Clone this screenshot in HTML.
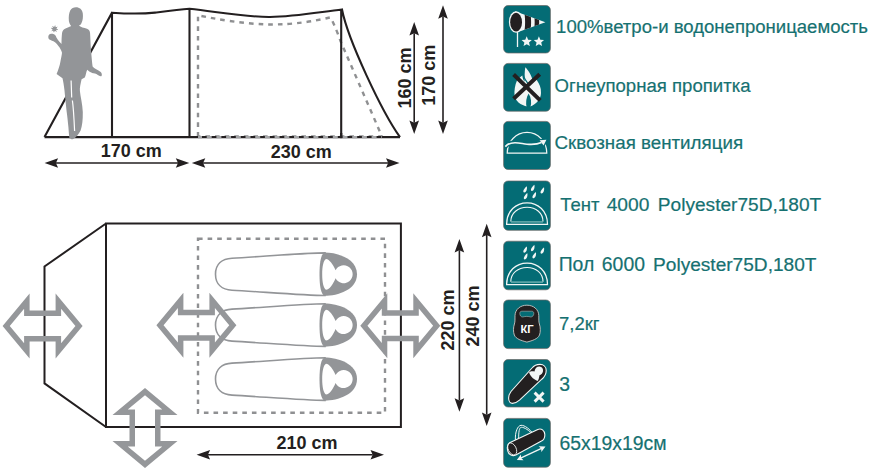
<!DOCTYPE html><html><head><meta charset="utf-8"><style>html,body{margin:0;padding:0;background:#fff;overflow:hidden}svg{display:block}text{font-family:"Liberation Sans",sans-serif}</style></head><body>
<svg width="875" height="474" viewBox="0 0 875 474">
<rect width="875" height="474" fill="#fff"/>
<path fill="none" stroke="#8f9092" stroke-width="2.4" stroke-dasharray="4.6 5" d="M198,136.5 L198,15.3 C215,19 245,24.2 270,24.5 C295,24.6 315,21 330.5,17.3 C335,26 338,34 340.6,41.3 L382,136.5 Z"/>
<path fill="none" stroke="#231f20" stroke-width="2.1" stroke-linejoin="miter" d="M44.5,137.1 L400,137.1 M44.5,137.1 L112,12.7 C125,13.6 140,14.2 155,12.6 C165,11.4 178,9.8 189.5,8.7 C225,13 250,17.3 270,17 C295,16.6 320,12 342,9.5 C348,40 382,112 400,137.1 M112,12.7 L112,137.1 M189.5,8.9 L189.5,137.1 M341.2,9.5 L341.2,137.1"/>
<path fill="none" stroke="#a3a4a6" stroke-width="2.2" stroke-dasharray="5 4.7" stroke-dashoffset="1" d="M198,137.1 L382,137.1"/>
<rect x="340.1" y="133" width="2.2" height="5.2" fill="#231f20"/>
<path fill="#939598" d="M76,7.3 C79.5,7.3 82.3,9.5 82.8,13.5 C83.2,17 82.8,20.5 81.5,23 C81,24.5 80,25.3 78.8,25.6 C80.5,27.2 84,28 87,28.8 C89,29.5 90,31 90.1,33.5 C90.4,38 90.6,45 91,50 C91.5,56 92,62 92.6,66.6 C94.2,68.5 98,70.3 100.7,71.9 C102,73 102.2,75.3 101.3,76.2 C100.2,76.8 98.3,75.3 96.8,74.3 C95.5,73.7 94,73.4 93,73.3 C90.5,72.5 88.5,71.2 87.3,69.8 C86.2,71.5 86,75 84.8,77.4 L81.6,79.2 C80.5,84 79.6,88 79.9,91 C80.5,97 82.5,104 82.8,112 C82.9,120 82.2,126 80.6,130.5 C78.8,134 76.2,137.6 73.3,138.9 C71.6,139.5 70,139.2 69.4,138 C68.9,134 68.7,131 68.4,127 C67.8,121 67.3,116 66.7,112 C65.8,104 65,96 64.5,90.6 C64,86 63.2,81 62.5,78.2 L56.6,74 C58.2,70 59.8,65.5 60.4,61.8 C61,58.5 61.8,55.5 62,52.8 C61.6,51 60.8,49.5 59.6,47.5 C58,45.5 56.5,43.5 55,42.3 C53,41 50.8,40.4 49.4,39.6 C48.2,38.6 48,36.5 48.7,35.2 C49.5,33.9 51.5,33.6 53.3,33.9 C55,34.3 55.9,35.5 56.4,37.6 C57.5,39.5 58.5,41 59.6,42.1 C60.3,42.8 61,43.5 61.5,44 C61.5,40 61.7,36 62.1,32.8 C62.4,31 63.5,29.6 65.5,28.6 C67.5,27.6 69.5,26.8 71.2,25.9 C70,24.8 69.3,23 68.9,21 C68.5,17 68.9,13 70.2,10.5 C71.6,8.3 73.5,7.3 76,7.3 Z"/>
<path fill="none" stroke="#fff" stroke-width="1.2" d="M71.1,80.5 L71.7,97.5 M72.4,100.5 C73.5,108 74,118 74.6,131"/>
<circle cx="54.5" cy="28.9" r="2.2" fill="#939598"/>
<line x1="54.5" y1="28.9" x2="57.73" y2="29.56" stroke="#939598" stroke-width="1"/>
<line x1="54.5" y1="28.9" x2="56.32" y2="31.65" stroke="#939598" stroke-width="1"/>
<line x1="54.5" y1="28.9" x2="53.84" y2="32.13" stroke="#939598" stroke-width="1"/>
<line x1="54.5" y1="28.9" x2="51.75" y2="30.72" stroke="#939598" stroke-width="1"/>
<line x1="54.5" y1="28.9" x2="51.27" y2="28.24" stroke="#939598" stroke-width="1"/>
<line x1="54.5" y1="28.9" x2="52.68" y2="26.15" stroke="#939598" stroke-width="1"/>
<line x1="54.5" y1="28.9" x2="55.16" y2="25.67" stroke="#939598" stroke-width="1"/>
<line x1="54.5" y1="28.9" x2="57.25" y2="27.08" stroke="#939598" stroke-width="1"/>
<line x1="55.90" y1="163.00" x2="178.00" y2="163.00" stroke="#231f20" stroke-width="1.60"/>
<polygon fill="#231f20" points="189.30,163.00 175.80,167.80 178.00,163.00 175.80,158.20"/>
<polygon fill="#231f20" points="44.60,163.00 58.10,158.20 55.90,163.00 58.10,167.80"/>
<line x1="203.10" y1="163.00" x2="388.20" y2="163.00" stroke="#231f20" stroke-width="1.60"/>
<polygon fill="#231f20" points="399.50,163.00 386.00,167.80 388.20,163.00 386.00,158.20"/>
<polygon fill="#231f20" points="191.80,163.00 205.30,158.20 203.10,163.00 205.30,167.80"/>
<line x1="414.20" y1="33.30" x2="414.20" y2="122.70" stroke="#231f20" stroke-width="1.60"/>
<polygon fill="#231f20" points="414.20,134.00 409.40,120.50 414.20,122.70 419.00,120.50"/>
<polygon fill="#231f20" points="414.20,22.00 419.00,35.50 414.20,33.30 409.40,35.50"/>
<line x1="443.00" y1="16.60" x2="443.00" y2="122.70" stroke="#231f20" stroke-width="1.60"/>
<polygon fill="#231f20" points="443.00,134.00 438.20,120.50 443.00,122.70 447.80,120.50"/>
<polygon fill="#231f20" points="443.00,5.30 447.80,18.80 443.00,16.60 438.20,18.80"/>
<text x="131.25" y="157.30" font-size="18.00" fill="#231f20" font-weight="bold" text-anchor="middle">170 cm</text>
<text x="301.35" y="157.60" font-size="18.00" fill="#231f20" font-weight="bold" text-anchor="middle">230 cm</text>
<text x="0" y="0" font-size="18" fill="#231f20" font-weight="bold" text-anchor="middle" transform="translate(410.5,78) rotate(-90)">160 cm</text>
<text x="0" y="0" font-size="18" fill="#231f20" font-weight="bold" text-anchor="middle" transform="translate(434.8,75.2) rotate(-90)">170 cm</text>
<path fill="none" stroke="#231f20" stroke-width="2.0" stroke-linejoin="miter" d="M106,223.5 L400.9,223.5 L400.9,427 L106,427 Z M106,223.5 L44.5,266.5 L44.5,383.4 L106,427"/>
<rect x="198" y="238.7" width="187" height="174.1" fill="none" stroke="#8f9092" stroke-width="2.4" stroke-dasharray="4.6 5"/>
<path fill="#fff" stroke="#939598" stroke-width="1.6" d="M325,252.90 C305,253.00 260,256.70 232,258.20 C222,258.70 215.5,264.20 215.5,274.20 C215.5,284.20 222,289.70 232,290.20 C260,291.70 305,295.40 325,295.50 Z"/>
<path fill="#939598" d="M324.5,252.60 C338,252.60 357,258.70 357,274.20 C357,289.70 338,295.80 324.5,295.80 C321,294.20 319.5,286.20 319.5,274.20 C319.5,262.20 321,254.20 324.5,252.60 Z"/>
<path fill="#fff" d="M326,258.90 C329.5,259.20 333,264.20 335.6,270.20 A9,9 0 1 1 335.6,278.20 C333,284.20 329.5,289.60 326,289.70 C323.5,288.20 322.2,282.20 322.2,274.20 C322.2,266.20 323.5,260.20 326,258.90 Z"/>
<path fill="#fff" stroke="#939598" stroke-width="1.6" d="M325,303.80 C305,303.90 260,307.60 232,309.10 C222,309.60 215.5,315.10 215.5,325.10 C215.5,335.10 222,340.60 232,341.10 C260,342.60 305,346.30 325,346.40 Z"/>
<path fill="#939598" d="M324.5,303.50 C338,303.50 357,309.60 357,325.10 C357,340.60 338,346.70 324.5,346.70 C321,345.10 319.5,337.10 319.5,325.10 C319.5,313.10 321,305.10 324.5,303.50 Z"/>
<path fill="#fff" d="M326,309.80 C329.5,310.10 333,315.10 335.6,321.10 A9,9 0 1 1 335.6,329.10 C333,335.10 329.5,340.50 326,340.60 C323.5,339.10 322.2,333.10 322.2,325.10 C322.2,317.10 323.5,311.10 326,309.80 Z"/>
<path fill="#fff" stroke="#939598" stroke-width="1.6" d="M325,357.80 C305,357.90 260,361.60 232,363.10 C222,363.60 215.5,369.10 215.5,379.10 C215.5,389.10 222,394.60 232,395.10 C260,396.60 305,400.30 325,400.40 Z"/>
<path fill="#939598" d="M324.5,357.50 C338,357.50 357,363.60 357,379.10 C357,394.60 338,400.70 324.5,400.70 C321,399.10 319.5,391.10 319.5,379.10 C319.5,367.10 321,359.10 324.5,357.50 Z"/>
<path fill="#fff" d="M326,363.80 C329.5,364.10 333,369.10 335.6,375.10 A9,9 0 1 1 335.6,383.10 C333,389.10 329.5,394.50 326,394.60 C323.5,393.10 322.2,387.10 322.2,379.10 C322.2,371.10 323.5,365.10 326,363.80 Z"/>
<path fill="#95979a" fill-rule="evenodd" d="M2.60,326.00 L29.60,293.50 L29.60,310.50 L55.60,310.50 L55.60,293.50 L82.60,326.00 L55.60,358.50 L55.60,341.50 L29.60,341.50 L29.60,358.50 Z M9.75,326.00 L24.10,308.73 L24.10,316.00 L61.10,316.00 L61.10,308.73 L75.45,326.00 L61.10,343.27 L61.10,336.00 L24.10,336.00 L24.10,343.27 Z"/>
<path fill="#95979a" fill-rule="evenodd" d="M156.40,325.30 L183.40,292.80 L183.40,309.80 L209.40,309.80 L209.40,292.80 L236.40,325.30 L209.40,357.80 L209.40,340.80 L183.40,340.80 L183.40,357.80 Z M163.55,325.30 L177.90,308.03 L177.90,315.30 L214.90,315.30 L214.90,308.03 L229.25,325.30 L214.90,342.57 L214.90,335.30 L177.90,335.30 L177.90,342.57 Z"/>
<path fill="#95979a" fill-rule="evenodd" d="M360.30,325.70 L387.30,293.20 L387.30,310.20 L413.30,310.20 L413.30,293.20 L440.30,325.70 L413.30,358.20 L413.30,341.20 L387.30,341.20 L387.30,358.20 Z M367.45,325.70 L381.80,308.43 L381.80,315.70 L418.80,315.70 L418.80,308.43 L433.15,325.70 L418.80,342.97 L418.80,335.70 L381.80,335.70 L381.80,342.97 Z"/>
<path fill="#95979a" fill-rule="evenodd" d="M145.00,388.00 L112.50,415.00 L129.50,415.00 L129.50,441.00 L112.50,441.00 L145.00,468.00 L177.50,441.00 L160.50,441.00 L160.50,415.00 L177.50,415.00 Z M145.00,395.15 L127.73,409.50 L135.00,409.50 L135.00,446.50 L127.73,446.50 L145.00,460.85 L162.27,446.50 L155.00,446.50 L155.00,409.50 L162.27,409.50 Z"/>
<line x1="459.40" y1="250.20" x2="459.40" y2="400.50" stroke="#231f20" stroke-width="1.60"/>
<polygon fill="#231f20" points="459.40,411.80 454.60,398.30 459.40,400.50 464.20,398.30"/>
<polygon fill="#231f20" points="459.40,238.90 464.20,252.40 459.40,250.20 454.60,252.40"/>
<line x1="486.70" y1="235.00" x2="486.70" y2="414.70" stroke="#231f20" stroke-width="1.60"/>
<polygon fill="#231f20" points="486.70,426.00 481.90,412.50 486.70,414.70 491.50,412.50"/>
<polygon fill="#231f20" points="486.70,223.70 491.50,237.20 486.70,235.00 481.90,237.20"/>
<line x1="207.90" y1="454.70" x2="372.70" y2="454.70" stroke="#231f20" stroke-width="1.60"/>
<polygon fill="#231f20" points="384.00,454.70 370.50,459.50 372.70,454.70 370.50,449.90"/>
<polygon fill="#231f20" points="196.60,454.70 210.10,449.90 207.90,454.70 210.10,459.50"/>
<text x="306.95" y="448.90" font-size="18.00" fill="#231f20" font-weight="bold" text-anchor="middle">210 cm</text>
<text x="0" y="0" font-size="18" fill="#231f20" font-weight="bold" text-anchor="middle" transform="translate(454,320) rotate(-90)">220 cm</text>
<text x="0" y="0" font-size="18" fill="#231f20" font-weight="bold" text-anchor="middle" transform="translate(478.5,316) rotate(-90)">240 cm</text>
<rect x="503.6" y="5.50" width="46.8" height="47.50" rx="4.5" fill="#046c75" stroke="#6a6664" stroke-width="0.7"/>
<rect x="503.6" y="63.40" width="46.8" height="47.80" rx="4.5" fill="#046c75" stroke="#6a6664" stroke-width="0.7"/>
<rect x="503.6" y="121.40" width="46.8" height="48.10" rx="4.5" fill="#046c75" stroke="#6a6664" stroke-width="0.7"/>
<rect x="503.6" y="181.00" width="46.8" height="49.30" rx="4.5" fill="#046c75" stroke="#6a6664" stroke-width="0.7"/>
<rect x="503.6" y="241.20" width="46.8" height="48.60" rx="4.5" fill="#046c75" stroke="#6a6664" stroke-width="0.7"/>
<rect x="503.6" y="300.00" width="46.8" height="48.60" rx="4.5" fill="#046c75" stroke="#6a6664" stroke-width="0.7"/>
<rect x="503.6" y="359.50" width="46.8" height="47.50" rx="4.5" fill="#046c75" stroke="#6a6664" stroke-width="0.7"/>
<rect x="503.6" y="418.40" width="46.8" height="48.80" rx="4.5" fill="#046c75" stroke="#6a6664" stroke-width="0.7"/>
<line x1="517.5" y1="30" x2="517.5" y2="47" stroke="#f2f6f5" stroke-width="1.3"/>
<defs><clipPath id="cone"><path d="M515,11.2 L545.4,22.2 L516.8,32.4 Z"/></clipPath></defs>
<path fill="#f2f6f5" d="M515,11.2 L545.4,22.2 L516.8,32.4 Z"/>
<g clip-path="url(#cone)" fill="#231f20"><path d="M523.6,10 C525.6,15 525.6,29 523.6,34 L529.6,34 C531.6,29 531.6,15 529.6,10 Z M533.4,12 C535.1,16 535.1,28 533.4,32 L537.9,32 C539.6,28 539.6,16 537.9,12 Z"/></g>
<ellipse cx="516.1" cy="22.0" rx="7.2" ry="10.8" fill="#f2f6f5"/>
<ellipse cx="516.1" cy="22.2" rx="5.9" ry="9.4" fill="#231f20"/>
<polygon fill="#f2f6f5" points="526.70,36.30 528.13,39.73 531.84,40.03 529.01,42.45 529.87,46.07 526.70,44.13 523.53,46.07 524.39,42.45 521.56,40.03 525.27,39.73"/>
<polygon fill="#f2f6f5" points="538.90,36.30 540.33,39.73 544.04,40.03 541.21,42.45 542.07,46.07 538.90,44.13 535.73,46.07 536.59,42.45 533.76,40.03 537.47,39.73"/>
<path fill="#f2f6f5" d="M525.5,67.2 C527.5,69.5 531,74 532.8,80.5 C534.5,79.8 535.5,79.5 536.6,79.8 C539.5,84 541.2,88 541,93 C540.8,99 537,104 529.5,106.8 C524,106.5 516,103 514.6,96 C514,91 515,85 517,80.5 C518.5,79 520,77 522.3,75.4 C522.5,78 523.5,80 524.6,81.7 C524.5,78 524.5,74 524.9,70.3 C525,69 525.2,68 525.5,67.2 Z"/>
<path fill="#046c75" d="M528.6,93.5 C531.2,97.5 531.8,103 530.4,107.3 L526.6,107.3 C525.6,103 526.1,97.5 528.6,93.5 Z"/>
<path fill="none" stroke="#046c75" stroke-width="1.3" d="M523.2,73.5 C523.8,78 526.3,82 529.6,84.8"/>
<path stroke="#231f20" stroke-width="4.0" stroke-linecap="butt" d="M513.6,74.5 L540.2,100.4 M539.7,74.2 L513.6,98.8"/>
<path fill="none" stroke="#f2f6f5" stroke-width="1.2" d="M507.2,153.2 A19.8,20.8 0 0 1 546.8,153.2 Z"/>
<path fill="none" stroke="#046c75" stroke-width="4.4" d="M505.3,146.6 C508,143.5 511,142.7 515,142.7 C520,142.8 523,143.9 527,144.2 C532,144.6 537,144.6 541.5,142.6"/>
<polygon fill="#046c75" stroke="#046c75" stroke-width="2.5" stroke-linejoin="round" points="546.4,139.8 539.6,140.2 541.4,142.6 543.6,145.6"/>
<path fill="none" stroke="#f2f6f5" stroke-width="1.6" d="M505.3,146.6 C508,143.5 511,142.7 515,142.7 C520,142.8 523,143.9 527,144.2 C532,144.6 537,144.6 541.5,142.6"/>
<polygon fill="#f2f6f5" points="546.4,139.8 539.6,140.2 541.4,142.6 543.6,145.6"/>
<path fill="#f2f6f5" d="M526.80,186.30 C527.40,189.10 526.20,192.50 524.20,192.50 C522.50,192.30 523.20,189.20 526.80,186.30 Z"/>
<path fill="#f2f6f5" d="M534.40,184.80 C535.00,187.60 533.80,191.00 531.80,191.00 C530.10,190.80 530.80,187.70 534.40,184.80 Z"/>
<path fill="#f2f6f5" d="M544.00,187.30 C544.60,190.10 543.40,193.50 541.40,193.50 C539.70,193.30 540.40,190.20 544.00,187.30 Z"/>
<path fill="#f2f6f5" d="M527.30,193.10 C527.90,195.90 526.70,199.30 524.70,199.30 C523.00,199.10 523.70,196.00 527.30,193.10 Z"/>
<path fill="#f2f6f5" d="M535.90,192.00 C536.50,194.80 535.30,198.20 533.30,198.20 C531.60,198.00 532.30,194.90 535.90,192.00 Z"/>
<path fill="none" stroke="#f2f6f5" stroke-width="1.25" d="M506.6,224.30 C506.6,211.00 516,202.80 527.1,202.80 C538,202.80 547.5,211.00 547.5,224.30 Z"/>
<path fill="none" stroke="#f2f6f5" stroke-width="1.1" d="M510.8,221.60 C510.8,213.00 518,207.30 527.1,207.30 C536,207.30 543,213.00 543,221.60"/>
<line x1="511" y1="221.90" x2="543" y2="221.90" stroke="#78b6b6" stroke-width="1.3"/>
<path fill="#f2f6f5" d="M526.80,246.50 C527.40,249.30 526.20,252.70 524.20,252.70 C522.50,252.50 523.20,249.40 526.80,246.50 Z"/>
<path fill="#f2f6f5" d="M534.40,245.00 C535.00,247.80 533.80,251.20 531.80,251.20 C530.10,251.00 530.80,247.90 534.40,245.00 Z"/>
<path fill="#f2f6f5" d="M544.00,247.50 C544.60,250.30 543.40,253.70 541.40,253.70 C539.70,253.50 540.40,250.40 544.00,247.50 Z"/>
<path fill="#f2f6f5" d="M527.30,253.30 C527.90,256.10 526.70,259.50 524.70,259.50 C523.00,259.30 523.70,256.20 527.30,253.30 Z"/>
<path fill="#f2f6f5" d="M535.90,252.20 C536.50,255.00 535.30,258.40 533.30,258.40 C531.60,258.20 532.30,255.10 535.90,252.20 Z"/>
<path fill="none" stroke="#f2f6f5" stroke-width="1.25" d="M506.6,284.50 C506.6,271.20 516,263.00 527.1,263.00 C538,263.00 547.5,271.20 547.5,284.50 Z"/>
<path fill="none" stroke="#f2f6f5" stroke-width="1.1" d="M510.8,281.80 C510.8,273.20 518,267.50 527.1,267.50 C536,267.50 543,273.20 543,281.80"/>
<line x1="511" y1="282.10" x2="543" y2="282.10" stroke="#78b6b6" stroke-width="1.3"/>
<path fill="#231f20" stroke="#c9c6c4" stroke-width="0.9" d="M526.9,305.2 C533.5,305.2 538.6,309.3 538.8,315.5 C538.9,319 538.6,321.5 539.4,324 C540.6,327.5 540.6,332 539.5,335 C537.8,339 532.5,340.6 526.9,342.1 C521.3,340.6 516,339 514.3,335 C513.2,332 513.2,327.5 514.4,324 C515.2,321.5 514.9,319 515,315.5 C515.2,309.3 520.3,305.2 526.9,305.2 Z"/>
<path fill="#046c75" stroke="#c9c6c4" stroke-width="0.5" d="M522,311.2 L531.6,311.2 C533,311.2 533.8,312 533.8,313.3 C533.8,315.6 532.5,317 530.8,317 C529.5,316.7 528.2,316.4 526.8,316.4 C525.4,316.4 524.1,316.7 522.8,317 C521,317 519.8,315.6 519.8,313.3 C519.8,312 520.6,311.2 522,311.2 Z"/>
<text x="527.1" y="333.2" font-size="11.2" font-weight="bold" fill="#fff" text-anchor="middle">КГ</text>
<path fill="#231f20" stroke="#f2f6f5" stroke-width="1.1" d="M508.6,398 C508.6,395.5 509.5,393.5 511,391.5 L532,368 C534,365.5 537,364.4 540,364.4 C543.5,364.4 546.2,366.8 546.2,370.5 C546.2,374 544.5,377 541.8,379.2 L519.5,400.2 C517.5,402 515,403.4 512.5,403.4 C510.2,403.4 508.6,401 508.6,398 Z"/>
<path fill="#f2f6f5" d="M529,372.6 C530.5,371 532.5,371 534.5,371.6 C534.8,368.5 537,366.5 539.5,366.6 C542,366.8 543.4,369 543,371.3 C542.6,373.5 541,374.8 539.5,375.2 C539,377.5 538.8,379.5 537.7,381 C534.5,380 531,377.5 529,372.6 Z"/>
<path stroke="#f2f6f5" stroke-width="2.9" d="M534.6,392.6 L543.6,401.6 M543.6,392.6 L534.6,401.6"/>
<path fill="none" stroke="#f2f6f5" stroke-width="1.0" d="M515.4,440 C515,432 517.5,425.8 521,425.3 C524.5,425 530.5,429.5 533.3,434.3 M518.6,441 C518.6,434 518.8,429 520.5,427.6 C522.5,426.3 528,429.5 531.3,433"/>
<path fill="#231f20" stroke="#f2f6f5" stroke-width="1.1" d="M509.6,442.8 L537.8,429.4 C541.5,428 544.5,430.5 544.8,434.5 C545,437.5 543.8,440 541,441.3 L515.8,455 C512.5,456.5 508.8,455 507.8,451 C506.9,447.4 507.5,444 509.6,442.8 Z"/>
<ellipse cx="512.2" cy="448.9" rx="3.9" ry="6.4" transform="rotate(-27 512.2 448.9)" fill="none" stroke="#f2f6f5" stroke-width="0.8"/>
<path fill="none" stroke="#f2f6f5" stroke-width="1.4" d="M519.5,458.6 L542.6,447.9"/>
<polygon fill="#f2f6f5" points="545.50,446.60 541.38,452.01 541.14,448.60 538.71,446.19"/>
<polygon fill="#f2f6f5" points="516.80,459.90 520.92,454.49 521.16,457.90 523.59,460.31"/>
<text x="556.07" y="33.40" font-size="18.56" fill="#167171" font-weight="normal" text-anchor="start" stroke="#167171" stroke-width="0.2">100%ветро-и водонепроницаемость</text>
<text x="554.57" y="92.40" font-size="18.58" fill="#167171" font-weight="normal" text-anchor="start" stroke="#167171" stroke-width="0.2">Огнеупорная пропитка</text>
<text x="554.56" y="149.30" font-size="18.76" fill="#167171" font-weight="normal" text-anchor="start" stroke="#167171" stroke-width="0.2">Сквозная вентиляция</text>
<text x="560.28" y="211.20" font-size="18.50" fill="#167171" font-weight="normal" text-anchor="start" stroke="#167171" stroke-width="0.2">Тент</text>
<text x="606.64" y="211.20" font-size="19.20" fill="#167171" font-weight="normal" text-anchor="start" stroke="#167171" stroke-width="0.2">4000</text>
<text x="657.84" y="211.20" font-size="19.10" fill="#167171" font-weight="normal" text-anchor="start" stroke="#167171" stroke-width="0.2">Polyester75D,180T</text>
<text x="558.63" y="270.60" font-size="19.40" fill="#167171" font-weight="normal" text-anchor="start" stroke="#167171" stroke-width="0.2">Пол</text>
<text x="601.83" y="270.60" font-size="19.40" fill="#167171" font-weight="normal" text-anchor="start" stroke="#167171" stroke-width="0.2">6000</text>
<text x="653.04" y="270.60" font-size="19.10" fill="#167171" font-weight="normal" text-anchor="start" stroke="#167171" stroke-width="0.2">Polyester75D,180T</text>
<text x="558.98" y="329.90" font-size="18.50" fill="#167171" font-weight="normal" text-anchor="start" stroke="#167171" stroke-width="0.2">7,2кг</text>
<text x="559.23" y="390.90" font-size="19.40" fill="#167171" font-weight="normal" text-anchor="start" stroke="#167171" stroke-width="0.2">3</text>
<text x="559.43" y="450.10" font-size="19.40" fill="#167171" font-weight="normal" text-anchor="start" stroke="#167171" stroke-width="0.2">65x19x19см</text>
</svg></body></html>
